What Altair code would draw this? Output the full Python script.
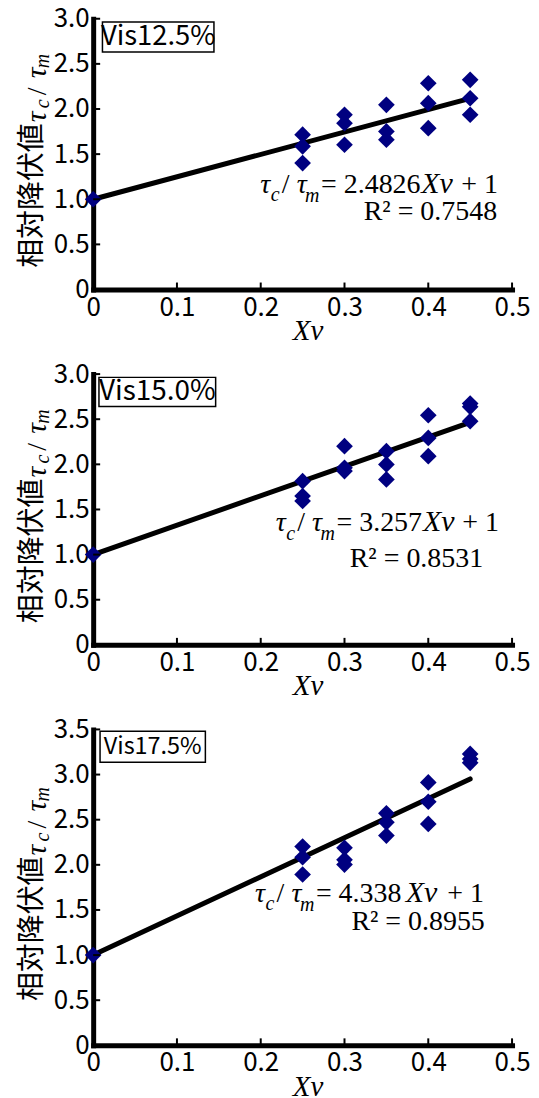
import altair as alt
import pandas as pd

# ---------------- data ----------------
xv_levels = [0.0, 0.25, 0.25, 0.25, 0.30, 0.30, 0.30, 0.35, 0.35, 0.35,
             0.40, 0.40, 0.40, 0.45, 0.45, 0.45]
ratio_vis125 = [1.0, 1.715, 1.586, 1.401, 1.936, 1.843, 1.604, 2.046, 1.751, 1.660,
                2.285, 2.064, 1.788, 2.323, 2.119, 1.936]
ratio_vis150 = [1.0, 1.814, 1.649, 1.594, 2.201, 1.961, 1.925, 2.146, 1.999, 1.833,
                2.544, 2.293, 2.091, 2.673, 2.637, 2.478]
ratio_vis175 = [1.0, 2.202, 2.084, 1.893, 2.188, 2.055, 2.003, 2.570, 2.471, 2.324,
                2.913, 2.699, 2.453, 3.229, 3.173, 3.130]
ratios = [ratio_vis125, ratio_vis150, ratio_vis175]

panel_labels = ["Vis12.5%", "Vis15.0%", "Vis17.5%"]
slopes = [2.4826, 3.257, 4.338]
slope_text = ["2.4826", "3.257", "4.338"]
r2_text = ["0.7548", "0.8531", "0.8955"]
trend_x = [0.0, 0.45]

x_axis_values = [0.0, 0.1, 0.2, 0.3, 0.4, 0.5]
x_tick_marks = [0.1, 0.2, 0.3, 0.4, 0.5]
y_max = [3.0, 3.0, 3.5]
y_axis_values = [[0, 0.5, 1.0, 1.5, 2.0, 2.5, 3.0],
                 [0, 0.5, 1.0, 1.5, 2.0, 2.5, 3.0],
                 [0, 0.5, 1.0, 1.5, 2.0, 2.5, 3.0, 3.5]]

# ---------------- layout / style ----------------
W = 420
UNIT = 90.5
SANS = "Noto Sans CJK JP"
SERIF = "Liberation Serif"
NAVY = "#000080"

# per-panel annotation layout (plot-relative pixels)
eq_start = [167.5, 183.0, 162.3]
eq_base = [174.5, 157.8, 172.7]
xv_pos = [329.0, 330.8, 313.5]
plus_pos = [369.0, 370.0, 355.0]
r2_right = [405.0, 391.0, 392.7]
r2_base = [202.0, 193.0, 201.3]
box_x = [(9.3, 121.1), (5.8, 122.8), (6.9, 112.5)]
box_y = [(3.3, 33.4), (3.3, 32.4), (1.7, 33.0)]
box_font = [27.5, 28, 23.5]

one = pd.DataFrame({"k": [0]})
label_expr = "datum.value == 0 ? '0' : format(datum.value, '.1f')"


def txt(text, x, y, size, font, style="normal", align="left", angle=None,
        baseline="alphabetic"):
    kw = dict(text=text, fontSize=size, font=font, fontStyle=style,
              align=align, baseline=baseline, color="black")
    if angle is not None:
        kw["angle"] = angle
    return alt.Chart(one).mark_text(**kw).encode(x=alt.value(x), y=alt.value(y))


def panel(i):
    h = y_max[i] * UNIT
    c = h / 2
    xenc = alt.X("x:Q", scale=alt.Scale(domain=[0, 0.5], nice=False),
                 axis=alt.Axis(values=x_axis_values, labelExpr=label_expr,
                               ticks=False, tickSize=0, grid=False,
                               domainWidth=5, domainColor="black", domainCap="square",
                               labelFont=SANS, labelFontSize=26, labelColor="black",
                               labelPadding=4.6, labelFlush=False, labelOverlap=False,
                               title="Xv", titleFont=SERIF, titleFontStyle="italic",
                               titleFontSize=29, titleFontWeight="normal",
                               titleColor="black", titleX=215, titleY=50,
                               titleBaseline="alphabetic"))
    yenc = alt.Y("y:Q", scale=alt.Scale(domain=[0, y_max[i]], nice=False),
                 axis=alt.Axis(values=y_axis_values[i], labelExpr=label_expr,
                               ticks=False, tickSize=0, grid=False,
                               domainWidth=5, domainColor="black", domainCap="square",
                               labelFont=SANS, labelFontSize=26, labelColor="black",
                               labelPadding=4, labelFlush=False, labelOverlap=False,
                               title=None))

    pts = pd.DataFrame({"x": xv_levels, "y": ratios[i]})
    trend = pd.DataFrame({"x": trend_x, "y": [1 + slopes[i] * v for v in trend_x]})

    line = alt.Chart(trend).mark_line(color="black", strokeWidth=5,
                                      strokeCap="round").encode(x=xenc, y=yenc)
    points = alt.Chart(pts).mark_point(shape="diamond", filled=True, size=280,
                                       color=NAVY, opacity=1).encode(x=xenc, y=yenc)
    xticks = alt.Chart(pd.DataFrame({"x": x_tick_marks})).mark_rule(
        color="black", strokeWidth=2).encode(x=xenc, y=alt.value(h), y2=alt.value(h - 7))
    yticks = alt.Chart(pd.DataFrame({"y": y_axis_values[i][1:]})).mark_rule(
        color="black", strokeWidth=2).encode(y=yenc, x=alt.value(0), x2=alt.value(7))

    # label box
    bx0, bx1 = box_x[i]
    by0, by1 = box_y[i]
    box = alt.Chart(one).mark_rect(fill="white", stroke="black", strokeWidth=1.5).encode(
        x=alt.value(bx0), x2=alt.value(bx1), y=alt.value(by0), y2=alt.value(by1))
    box_t = txt(panel_labels[i], (bx0 + bx1) / 2, (by0 + by1) / 2, box_font[i], SANS,
                align="center", baseline="middle")

    # equation
    x0 = eq_start[i]
    b = eq_base[i]
    eq = [
        txt("τ", x0, b, 28, SERIF, "italic"),
        txt("c", x0 + 10.5, b + 8.5, 20, SERIF, "italic"),
        txt("/", x0 + 21.5, b, 28, SERIF),
        txt("τ", x0 + 36.5, b, 28, SERIF, "italic"),
        txt("m", x0 + 45, b + 9, 20, SERIF, "italic"),
        txt("= " + slope_text[i], x0 + 61, b, 28, SERIF),
        txt("Xv", xv_pos[i], b, 30, SERIF, "italic"),
        txt("+ 1", plus_pos[i], b, 28, SERIF),
        txt("R² = " + r2_text[i], r2_right[i], r2_base[i], 28, SERIF, align="right"),
    ]

    # rotated y title
    s0 = c + 114
    ytitle = [
        txt("相対降伏値", -52.5, s0, 29, SANS, angle=270),
        txt("τ", -47.5, s0 - 146, 30, SERIF, "italic", angle=270),
        txt("c", -44, s0 - 160, 20, SERIF, "italic", angle=270),
        txt("/", -47.5, s0 - 173, 28, SERIF, angle=270),
        txt("τ", -47.5, s0 - 190, 30, SERIF, "italic", angle=270),
        txt("m", -44, s0 - 200, 20, SERIF, "italic", angle=270),
    ]

    return alt.layer(line, points, xticks, yticks, box, box_t, *eq, *ytitle).properties(
        width=W, height=h)


chart = alt.vconcat(panel(0), panel(1), panel(2), spacing=84.3, bounds="flush").properties(
    padding={"left": 9.4, "top": -3.7, "right": 0, "bottom": 0}
).configure_view(stroke=None)

chart.save("out.html", embed_options={"renderer": "svg", "actions": False})
